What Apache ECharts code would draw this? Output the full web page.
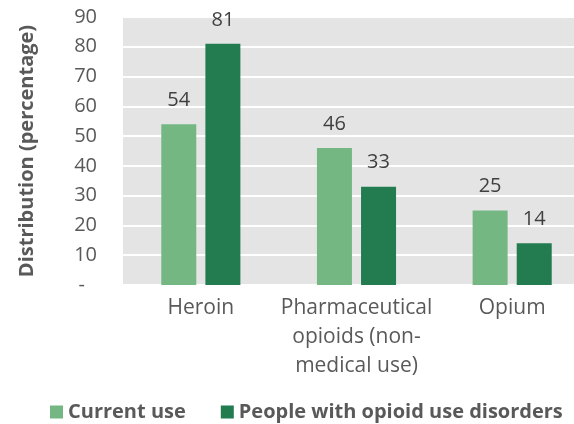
<!DOCTYPE html>
<html>
<head>
<meta charset="utf-8">
<script src="https://cdn.jsdelivr.net/npm/echarts@6/dist/echarts.min.js"></script>
<style>
  html, body { margin: 0; padding: 0; background: #fff; }
  #chart { width: 574px; height: 424px; }
</style>
</head>
<body>
<div id="chart"></div>
<script>
// categories and series
const categories = ['Heroin', 'Pharmaceutical\nopioids (non-\nmedical use)', 'Opium']
const currentUse = [54, 46, 25]
const opioidDisorders = [81, 33, 14]
const seriesNames = ['Current use', 'People with opioid use disorders']
const colors = ['#74B783', '#237B50']

const font = 'Open Sans'
const chart = echarts.init(document.getElementById('chart'))

const barLabel = {
  show: true,
  position: 'top',
  distance: 14,
  color: '#404040',
  fontFamily: font,
  fontSize: 20
}

const option = {
  animation: false,
  textStyle: { fontFamily: font },
  grid: {
    left: 123,
    top: 17,
    right: -16,
    height: 268,
    outerBoundsMode: 'none',
    show: true,
    backgroundColor: '#E4E4E4',
    borderWidth: 0
  },
  legend: {
    top: 402,
    left: 50,
    padding: 0,
    itemWidth: 13,
    itemHeight: 13,
    itemGap: 35,
    icon: 'rect',
    textStyle: {
      color: '#595959',
      fontFamily: font,
      fontSize: 20,
      fontWeight: 'bold'
    },
    data: seriesNames
  },
  xAxis: {
    type: 'category',
    data: categories,
    axisLine: { show: false },
    axisTick: { show: false },
    axisLabel: {
      interval: 0,
      color: '#595959',
      fontFamily: font,
      fontSize: 21,
      lineHeight: 29,
      margin: 9
    }
  },
  yAxis: {
    type: 'value',
    min: 0,
    max: 90,
    interval: 10,
    name: 'Distribution (percentage)',
    nameLocation: 'middle',
    nameGap: 86,
    nameTextStyle: {
      color: '#595959',
      fontFamily: font,
      fontSize: 20,
      fontWeight: 'bold'
    },
    axisLine: { show: false },
    axisTick: { show: false },
    splitLine: { lineStyle: { color: '#ffffff', width: 2 } },
    axisLabel: {
      color: '#595959',
      fontFamily: font,
      fontSize: 20,
      margin: 26,
      formatter: function (v) {
        return v === 0 ? '{d|-}' : String(v)
      },
      rich: {
        d: { color: '#595959', fontFamily: font, fontSize: 20, padding: [0, 12, 0, 0] }
      }
    }
  },
  series: [
    {
      name: seriesNames[0],
      type: 'bar',
      data: currentUse,
      barWidth: 35,
      barGap: '26%',
      itemStyle: { color: colors[0] },
      label: barLabel
    },
    {
      name: seriesNames[1],
      type: 'bar',
      data: opioidDisorders,
      barWidth: 35,
      itemStyle: { color: colors[1] },
      label: barLabel
    }
  ]
}

chart.setOption(option, true)
</script>
</body>
</html>
